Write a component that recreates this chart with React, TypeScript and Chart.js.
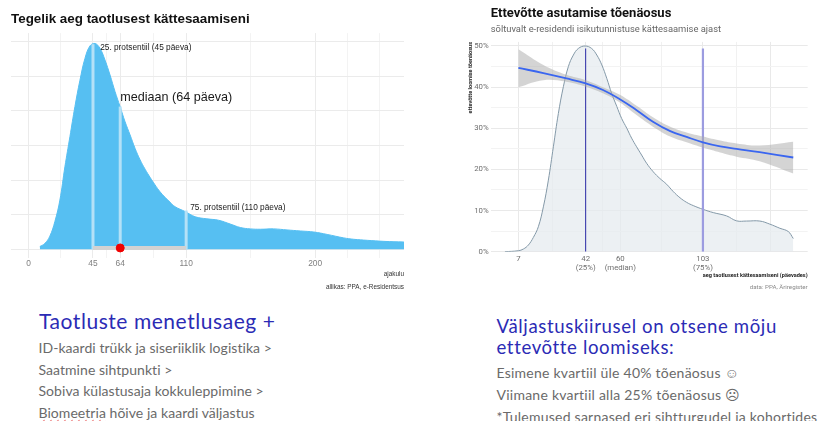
import React, { useEffect, useRef } from "react";
import { Chart, registerables } from "chart.js";

Chart.register(...registerables);

// ---------- left chart ----------
const leftTitle = "Tegelik aeg taotlusest kättesaamiseni";
const leftDays = [7.9, 11.4, 14.9, 18.4, 21.9, 25.4, 28.9, 32.4, 35.9, 39.4, 42.9, 46.4, 49.9, 53.4, 56.9, 60.4, 63.9, 67.4, 70.9, 74.4, 77.9, 81.4, 84.8, 88.3, 91.8, 95.3, 98.8, 102.3, 109.3, 116.3, 124.5, 132.6, 140.8, 147.8, 154.8, 161.8, 171.1, 180.4, 189.7, 199.1, 208.4, 220, 227, 236.4, 248, 262];
const leftDensity = [0.08, 0.17, 0.38, 0.8, 1.42, 2.38, 3.25, 4.12, 4.88, 5.51, 5.87, 5.94, 5.8, 5.46, 5.03, 4.55, 4.12, 3.68, 3.3, 2.91, 2.58, 2.31, 2.08, 1.86, 1.66, 1.5, 1.36, 1.23, 1.09, 0.94, 0.88, 0.84, 0.73, 0.63, 0.59, 0.58, 0.59, 0.56, 0.53, 0.5, 0.43, 0.33, 0.29, 0.26, 0.23, 0.21];
const leftQuartileDays = [45, 64, 110];
const leftQuartileTops = [5.92, 4.12, 1.12];
const leftMajorTicks = [0, 45, 64, 110, 200];
const leftMinorTicks = [22.5, 54.5, 87, 155, 222.5, 245];
const leftYTicks = [0, 1, 2, 3, 4, 5, 6];

// ---------- right chart ----------
const rightTitle = "Ettevõtte asutamise tõenäosus";
const rightSubtitle = "sõltuvalt e-residendi isikutunnistuse kättesaamise ajast";
const densDays = [0, 7, 9.6, 12.2, 14.8, 17.4, 20, 22.6, 25.2, 27.8, 30.4, 33, 35.6, 38.2, 41.7, 45.1, 47.8, 50.4, 53, 55.5, 58.2, 60.7, 63.4, 65.9, 68.5, 71.1, 73.7, 77.2, 80.6, 84.1, 87.6, 91.1, 94.5, 98, 103, 108.4, 115.3, 120.5, 125.7, 132.6, 137.8, 143, 147.4, 150];
const densPct = [0, 0.24, 0.65, 1.62, 3.48, 6.08, 10.9, 17.4, 25.5, 33.6, 40.1, 45, 47.8, 49.4, 50, 49.4, 47.8, 45.4, 42.1, 38.5, 35.3, 32.4, 30, 27.6, 25.5, 23.5, 21.5, 19.4, 17.8, 16.4, 14.6, 13.1, 12, 11.2, 10.3, 9.5, 8.7, 7.5, 7.45, 7.45, 6.7, 5.7, 4.9, 3.2];
const smoothDays = [7, 20, 32, 42, 51, 60, 68.5, 77, 86, 94.5, 103, 112, 120.5, 132.5, 150];
const smoothPct = [44.7, 43.4, 42.1, 40.9, 39.3, 37, 34.4, 31.6, 29.3, 27.9, 26.6, 25.6, 25, 24.2, 22.9];
const bandUpper = [49.2, 45.4, 43, 41.7, 40, 38.1, 35.5, 32.7, 30.4, 29, 28, 27, 26.3, 25.8, 26.7];
const bandLower = [40, 41.7, 41.3, 40.1, 38.5, 36.2, 33.2, 30.4, 28, 26.6, 25.3, 24.1, 23.1, 22, 19];
const rightMajorTicks: [number, string[]][] = [
  [7, ["7"]],
  [42, ["42", "(25%)"]],
  [60, ["60", "(median)"]],
  [103, ["103", "(75%)"]],
  [138, [""]],
];
const rightMinorTicks = [24.5, 51, 81.5, 120.5];
const rightYTicks = [0, 5, 10, 15, 20, 25, 30, 35, 40, 45, 50];

// ---------- slide text ----------
const leftHeading = "Taotluste menetlusaeg +";
const leftLines = ["ID-kaardi trükk ja siseriiklik logistika >", "Saatmine sihtpunkti >", "Sobiva külastusaja kokkuleppimine >"];
const leftLastRest = " hõive ja kaardi väljastus";
const leftLastFirst = "Biomeetria";
const rightHeading = ["Väljastuskiirusel on otsene mõju", "ettevõtte loomiseks:"];
const rightLines = ["Esimene kvartiil üle 40% tõenäosus ☺", "Viimane kvartiil alla 25% tõenäosus ☹", "*Tulemused sarnased eri sihtturgudel ja kohortides"];

const SANS = "'Liberation Sans', Arial, sans-serif";
const NARROW = "'Liberation Sans Narrow', Roboto, sans-serif";
const SLIDE = "Lato, 'Open Sans', sans-serif";

const toXY = (xs: number[], ys: number[]) => xs.map((x, i) => ({ x, y: ys[i] }));

function useChart(make: (c: HTMLCanvasElement) => Chart) {
  const ref = useRef<HTMLCanvasElement>(null);
  useEffect(() => {
    const chart = make(ref.current!);
    return () => chart.destroy();
  }, []);
  return ref;
}

function makeLeft(canvas: HTMLCanvasElement) {
  const annotations = [
    { text: "25. protsentiil (45 päeva)", x: 50, y: 5.83, size: 8.3 },
    { text: "mediaan (64 päeva)", x: 64, y: 4.39, size: 12.6 },
    { text: "75. protsentiil (110 päeva)", x: 112.8, y: 1.19, size: 8.3 },
  ];
  const annotate = {
    id: "annotate",
    afterDatasetsDraw(chart: Chart) {
      const { ctx, scales } = chart;
      ctx.save();
      ctx.fillStyle = "#1a1a1a";
      ctx.textBaseline = "middle";
      for (const a of annotations) {
        ctx.font = `${a.size}px ${SANS}`;
        ctx.fillText(a.text, scales.x.getPixelForValue(a.x), scales.y.getPixelForValue(a.y));
      }
      ctx.restore();
    },
  };
  const vLine = (i: number) => ({
    data: [
      { x: leftQuartileDays[i], y: 0 },
      { x: leftQuartileDays[i], y: leftQuartileTops[i] },
    ],
    borderColor: "#b4e1f7",
    borderWidth: 3,
    pointRadius: 0,
  });
  return new Chart(canvas, {
    type: "line",
    data: {
      datasets: [
        {
          data: [{ x: leftQuartileDays[1], y: 0.04 }],
          pointRadius: 4,
          pointBackgroundColor: "#f00000",
          pointBorderColor: "#f00000",
          showLine: false,
        },
        {
          data: [
            { x: leftQuartileDays[0], y: 0.04 },
            { x: leftQuartileDays[2], y: 0.04 },
          ],
          borderColor: "#d2d2d2",
          borderWidth: 4,
          pointRadius: 0,
        },
        vLine(0),
        vLine(1),
        vLine(2),
        {
          data: toXY(leftDays, leftDensity),
          borderColor: "#56bff2",
          backgroundColor: "#56bff2",
          borderWidth: 1,
          fill: "origin",
          pointRadius: 0,
          tension: 0.4,
        },
      ],
    } as any,
    plugins: [annotate],
    options: {
      responsive: false,
      animation: false,
      layout: { padding: { left: 11, right: 16, top: 0, bottom: 0 } },
      plugins: {
        legend: { display: false },
        tooltip: { enabled: false },
        title: {
          display: true,
          text: leftTitle,
          align: "start",
          color: "#111111",
          font: { family: SANS, size: 13.4, weight: "bold" },
          padding: { top: 11, bottom: 6 },
        },
      },
      scales: {
        x: {
          type: "linear",
          min: -12.2,
          max: 262,
          afterFit: (s: any) => { s.height = 42; },
          afterBuildTicks: (s: any) => {
            s.ticks = [...leftMajorTicks, ...leftMinorTicks].sort((a, b) => a - b).map((value) => ({ value }));
          },
          ticks: {
            autoSkip: false,
            maxRotation: 0,
            padding: 1,
            color: "#808080",
            font: { family: SANS, size: 8.4 },
            callback: (v: any) => (leftMajorTicks.includes(v) ? String(v) : ""),
          },
          grid: {
            drawTicks: false,
            color: (c: any) => (leftMajorTicks.includes(c.tick?.value) ? "#ebebeb" : "#f3f3f3"),
          },
          border: { display: false },
          title: {
            display: true,
            text: ["ajakulu", "allikas: PPA, e-Residentsus"],
            align: "end",
            color: "#333333",
            font: { family: SANS, size: 6.4, lineHeight: 2.05 },
            padding: { top: 0, bottom: 6 },
          },
        },
        y: {
          type: "linear",
          min: -0.25,
          max: 6.24,
          afterFit: (s: any) => { s.width = 0; },
          afterBuildTicks: (s: any) => { s.ticks = leftYTicks.map((value) => ({ value })); },
          ticks: { display: false },
          grid: { drawTicks: false, color: "#ebebeb" },
          border: { display: false },
        },
      },
    } as any,
  });
}

function makeRight(canvas: HTMLCanvasElement) {
  const caption = {
    id: "caption",
    afterDraw(chart: Chart) {
      const { ctx, chartArea } = chart;
      ctx.save();
      ctx.textAlign = "right";
      ctx.textBaseline = "middle";
      ctx.fillStyle = "#8a8a8a";
      ctx.font = `6.2px ${NARROW}`;
      ctx.fillText("data: PPA, Äriregister", chartArea.right, chartArea.bottom + 36);
      ctx.restore();
    },
  };
  const vLine = (day: number, color: string, width: number) => ({
    data: [
      { x: day, y: 0 },
      { x: day, y: 49.4 },
    ],
    borderColor: color,
    borderWidth: width,
    pointRadius: 0,
  });
  const majors = rightMajorTicks.map((t) => t[0]);
  return new Chart(canvas, {
    type: "line",
    data: {
      datasets: [
        {
          data: toXY(smoothDays, smoothPct),
          borderColor: "#3a66f0",
          borderWidth: 1.8,
          pointRadius: 0,
          tension: 0.4,
        },
        {
          data: toXY(smoothDays, bandUpper),
          borderWidth: 0,
          borderColor: "transparent",
          backgroundColor: "rgba(170,170,170,0.5)",
          fill: "+1",
          pointRadius: 0,
          tension: 0.4,
        },
        {
          data: toXY(smoothDays, bandLower),
          borderWidth: 0,
          borderColor: "transparent",
          pointRadius: 0,
          tension: 0.4,
        },
        vLine(42, "#2a2aa6", 1),
        vLine(103, "#9c9ce0", 2.2),
        {
          data: toXY(densDays, densPct),
          borderColor: "#8499a8",
          backgroundColor: "rgba(228,234,238,0.7)",
          borderWidth: 1,
          fill: "origin",
          pointRadius: 0,
          tension: 0.4,
        },
      ],
    } as any,
    plugins: [caption],
    options: {
      responsive: false,
      animation: false,
      layout: { padding: { left: 0, right: 10.3, top: 0, bottom: 0 } },
      plugins: {
        legend: { display: false },
        tooltip: { enabled: false },
        title: {
          display: true,
          text: rightTitle,
          align: "start",
          fullSize: false,
          color: "#111111",
          font: { family: NARROW, size: 13, weight: "bold" },
          padding: { top: 6, bottom: 0 },
        },
        subtitle: {
          display: true,
          text: rightSubtitle,
          align: "start",
          fullSize: false,
          color: "#666666",
          font: { family: NARROW, size: 9.4 },
          padding: { top: 2, bottom: 7 },
        },
      },
      scales: {
        x: {
          type: "linear",
          min: -7.4,
          max: 157.5,
          afterFit: (s: any) => { s.height = 48.3; },
          afterBuildTicks: (s: any) => {
            s.ticks = [...majors, ...rightMinorTicks].sort((a, b) => a - b).map((value) => ({ value }));
          },
          ticks: {
            autoSkip: false,
            maxRotation: 0,
            padding: 2.5,
            color: "#6e6e6e",
            font: { family: NARROW, size: 7.8 },
            callback: (v: any) => {
              const m = rightMajorTicks.find((t) => t[0] === v);
              return m ? m[1] : "";
            },
          },
          grid: {
            drawTicks: false,
            color: (c: any) => (majors.includes(c.tick?.value) ? "#e9e9e9" : "#f1f1f1"),
          },
          border: { display: false },
          title: {
            display: true,
            text: "aeg taotlusest kättesaamiseni (päevades)",
            align: "end",
            color: "#222222",
            font: { family: NARROW, size: 5.6, weight: "bold" },
            padding: { top: 0, bottom: 21 },
          },
        },
        y: {
          type: "linear",
          min: 0,
          max: 51,
          afterFit: (s: any) => { s.width = 30.7; },
          afterBuildTicks: (s: any) => { s.ticks = rightYTicks.map((value) => ({ value })); },
          ticks: {
            autoSkip: false,
            padding: 2,
            color: "#6e6e6e",
            font: { family: NARROW, size: 7.8 },
            callback: (v: any) => (v % 10 === 0 ? `${v}%` : ""),
          },
          grid: {
            drawTicks: false,
            color: (c: any) => (c.tick?.value % 10 === 0 ? "#e9e9e9" : "#f3f3f3"),
          },
          border: { display: false },
          title: {
            display: true,
            text: "ettevõtte loomise tõenäosus",
            align: "end",
            color: "#222222",
            font: { family: NARROW, size: 5.6, weight: "bold" },
            padding: { top: 7, bottom: 0 },
          },
        },
      },
    } as any,
  });
}

const line = (left: number, top: number, text: React.ReactNode, size: number, color: string, spacing: number, key?: number) => (
  <div
    key={key}
    style={{
      position: "absolute",
      left,
      top,
      fontFamily: SLIDE,
      fontSize: size,
      lineHeight: `${Math.round(size * 1.2)}px`,
      letterSpacing: spacing,
      color,
      whiteSpace: "nowrap",
    }}
  >
    {text}
  </div>
);

export default function App() {
  const leftRef = useChart(makeLeft);
  const rightRef = useChart(makeRight);
  const blue = "#2b2bb5";
  const grey = "#6a6a6a";
  return (
    <div style={{ position: "fixed", left: 0, top: 0, width: 818, height: 421, overflow: "hidden", background: "#fff" }}>
      <canvas ref={leftRef} width={420} height={300} style={{ position: "absolute", left: 0, top: 0 }} />
      <canvas ref={rightRef} width={358} height={300} style={{ position: "absolute", left: 460, top: 0 }} />
      {line(39, 308, leftHeading, 21, blue, 0.55)}
      {leftLines.map((t, i) => line(38.5, 339 + i * 21.7, t, 14, grey, 0.05, i))}
      {line(
        38.5,
        404,
        <>
          <span style={{ textDecoration: "underline wavy #e88", textDecorationThickness: 1 }}>{leftLastFirst}</span>
          {leftLastRest}
        </>,
        14,
        grey,
        0.05
      )}
      {rightHeading.map((t, i) => line(496.5, 315 + i * 21, t, 18.6, blue, 0.62, i))}
      {rightLines.map((t, i) => line(496.5, 364 + i * 22, t, 14, grey, 0.24, i))}
    </div>
  );
}
